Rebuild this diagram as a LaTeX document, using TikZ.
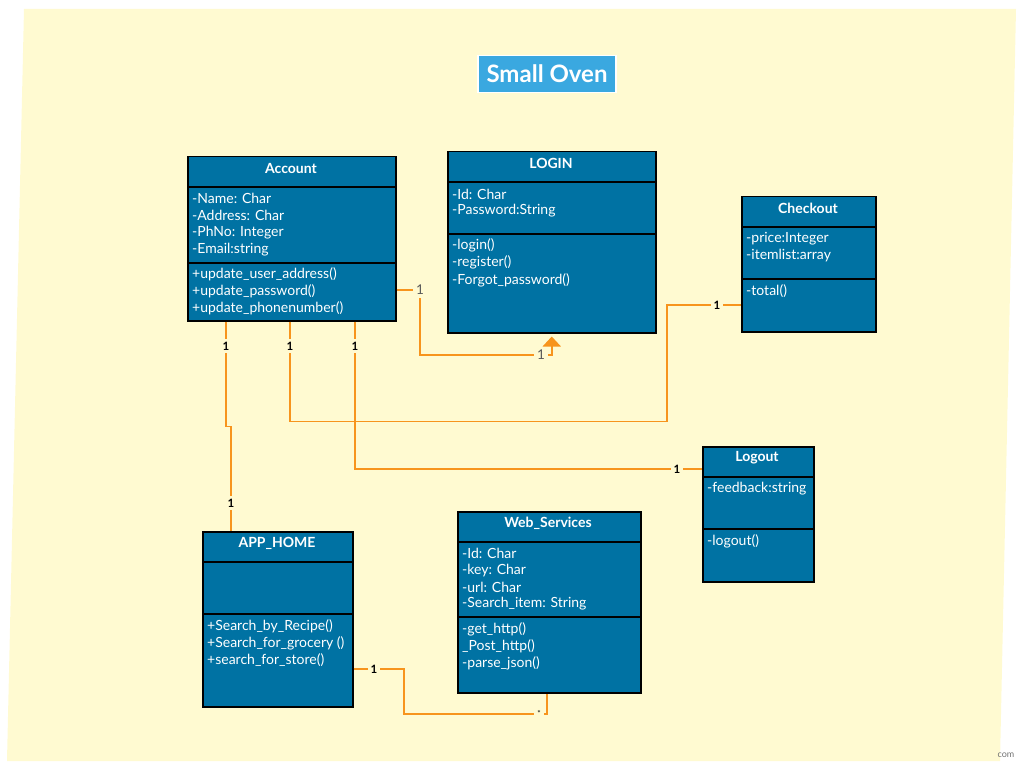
\documentclass[tikz,border=0pt]{standalone}
\usepackage{fontspec}
\setmainfont{Lato}
\usetikzlibrary{arrows.meta,calc}

\definecolor{classblue}{HTML}{0072A3}
\definecolor{notebg}{HTML}{FFFAD1}
\definecolor{linkorange}{HTML}{F7941D}
\definecolor{titleblue}{HTML}{3AA8E0}

\tikzset{
  classbox/.style={draw=black, line width=1.5pt, fill=classblue, anchor=north west, inner sep=0pt},
  divider/.style={draw=black, line width=1.5pt},
  classname/.style={text=white, font=\bfseries\fontsize{14}{16}\selectfont},
  member/.style={text=white, font=\fontsize{14}{16}\selectfont, anchor=west, inner sep=0pt},
  link/.style={draw=linkorange, line width=1.8pt},
  mult/.style={fill=notebg, font=\bfseries\fontsize{11.5}{12}\selectfont, inner sep=3pt},
  multgray/.style={fill=notebg, text=black!65, font=\fontsize{13.5}{14}\selectfont, inner sep=3pt},
}

\begin{document}
\begin{tikzpicture}[x=1pt,y=-1pt]
    \useasboundingbox (0,0) rectangle (1022,770);
    % sticky note background
    \fill [notebg] (24,9) -- (1016,9) -- (1000,761) -- (7,761) -- cycle;
    \node [text=black!55, font=\fontsize{9}{10}\selectfont, inner sep=0pt] (brand) at (1006,755) {com};
%    \draw [linkorange, thick] (989,757) -- (987,764);

    % title
    \node [fill=titleblue, draw=white, line width=1.5pt, text=white,
           font=\bfseries\fontsize{24}{26}\selectfont,
           minimum width=138pt, minimum height=37pt] (title) at (547,74) {Small Oven};

    % Account
    \node [classbox, minimum width=208pt, minimum height=164pt] (account) at (187,156) {};
    \node [classname] (account-name) at (291,168) {Account};
    \draw [divider] (187,187) -- (395,187);
    \draw [divider] (187,263) -- (395,263);
    \foreach \t [count=\i] in {-Name: Char,-Address: Char,-PhNo: Integer,-Email:string}
        \node [member] (account-a\i) at (192,{182+16.8*\i}) {\t};
    \foreach \t [count=\i] in {+update\_user\_address(),+update\_password(),+update\_phonenumber()}
        \node [member] (account-m\i) at (192,{257+17*\i}) {\t};

    % LOGIN
    \node [classbox, minimum width=208pt, minimum height=181pt] (login) at (447,151) {};
    \node [classname] (login-name) at (551,163) {LOGIN};
    \draw [divider] (447,182) -- (655,182);
    \draw [divider] (447,234) -- (655,234);
    \foreach \t [count=\i] in {-Id: Char,-Password:String}
        \node [member] (login-a\i) at (452,{177+17*\i}) {\t};
    \foreach \t [count=\i] in {-login(),-register(),-Forgot\_password()}
        \node [member] (login-m\i) at (452,{228+17.3*\i}) {\t};

    % Checkout
    \node [classbox, minimum width=134pt, minimum height=135pt] (checkout) at (741,196) {};
    \node [classname] (checkout-name) at (808,208) {Checkout};
    \draw [divider] (741,227) -- (875,227);
    \draw [divider] (741,279) -- (875,279);
    \foreach \t [count=\i] in {-price:Integer,-itemlist:array}
        \node [member] (checkout-a\i) at (746,{222+17*\i}) {\t};
    \node [member] (checkout-m1) at (746,291) {-total()};

    % Logout
    \node [classbox, minimum width=111pt, minimum height=135pt] (logout) at (702,446) {};
    \node [classname] (logout-name) at (757,458) {Logout};
    \draw [divider] (702,477) -- (813,477);
    \draw [divider] (702,529) -- (813,529);
    \node [member] (logout-a1) at (707,489) {-feedback:string};
    \node [member] (logout-m1) at (707,541) {-logout()};

    % APP_HOME
    \node [classbox, minimum width=150pt, minimum height=175pt] (apphome) at (202,531) {};
    \node [classname] (apphome-name) at (277,543) {APP\_HOME};
    \draw [divider] (202,562) -- (352,562);
    \draw [divider] (202,614) -- (352,614);
    \foreach \t [count=\i] in {+Search\_by\_Recipe(),+Search\_for\_grocery (),+search\_for\_store()}
        \node [member] (apphome-m\i) at (207,{609+17*\i}) {\t};

    % Web_Services
    \node [classbox, minimum width=183pt, minimum height=181pt] (websvc) at (457,511) {};
    \node [classname] (websvc-name) at (548,523) {Web\_Services};
    \draw [divider] (457,542) -- (640,542);
    \draw [divider] (457,617) -- (640,617);
    \foreach \t [count=\i] in {-Id: Char,-key: Char,-url: Char,-Search\_item: String}
        \node [member] (websvc-a\i) at (462,{537+16.7*\i}) {\t};
    \foreach \t [count=\i] in {-get\_http(),\_Post\_http(),-parse\_json()}
        \node [member] (websvc-m\i) at (462,{612+17*\i}) {\t};

    % connectors
    \draw [link, -{Triangle[width=18pt,length=10pt]}]
        ($(account.north east)+(0,134)$) -| (420,355) -| ($(login.south)+(0,3)$);
    \node [multgray] (m-acc-login) at (420,290) {1};
    \node [multgray] (m-login-acc) at (541,355) {1};

    \draw [link] ($(account.south west)+(39,0)$) -- ++(0,105) -| ($(apphome.north west)+(29,0)$);
    \node [mult] (m-acc-home) at (226,346) {1};
    \node [mult] (m-home-acc) at (231,503) {1};

    \draw [link] ($(account.south west)+(103,0)$) -- ++(0,100) -| (667,305) -- ($(checkout.north west)+(0,109)$);
    \node [mult] (m-acc-check) at (290,346) {1};
    \node [mult] (m-check-acc) at (717,305) {1};

    \draw [link] ($(account.south west)+(168,0)$) |- ($(logout.north west)+(0,23)$);
    \node [mult] (m-acc-logout) at (355,346) {1};
    \node [mult] (m-logout-acc) at (677,469) {1};

    \draw [link] ($(apphome.north east)+(0,138)$) -| (404,714) -| ($(websvc.south west)+(90,0)$);
    \node [mult] (m-home-web) at (374,669) {1};
    \node [mult, font=\fontsize{8}{9}\selectfont] (m-web-home) at (539,713) {*};
\end{tikzpicture}
\end{document}
